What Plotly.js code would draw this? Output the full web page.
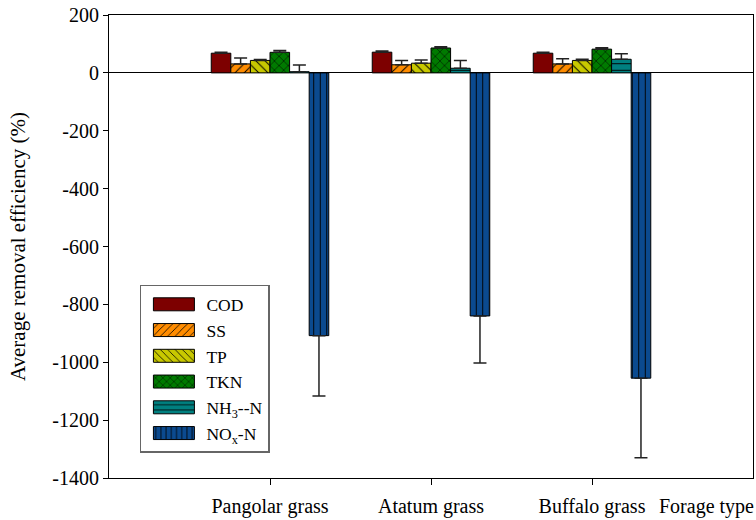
<!DOCTYPE html>
<html>
<head>
<meta charset="utf-8">
<script src="https://cdn.plot.ly/plotly-3.0.1.min.js"></script>
<style>html,body{margin:0;padding:0;background:#fff;}#chart{width:756px;height:520px;}</style>
</head>
<body>
<div id="chart"></div>
<script>
// ---- data ----
const categories = ['Pangolar grass', 'Atatum grass', 'Buffalo grass'];
const axisLabel = 'Forage type';
const seriesNames = ['COD', 'SS', 'TP', 'TKN', 'NH<sub>3</sub>--N', 'NO<sub>x</sub>-N'];
const COD = [68, 71.5, 68];
const COD_err = [3, 4, 3.5];
const SS = [31, 28, 31];
const SS_err = [20, 15, 18];
const TP = [43, 33.5, 43];
const TP_err = [3, 11, 4];
const TKN = [71, 86, 82];
const TKN_err = [6, 4, 5];
const NH3 = [4, 16, 47];
const NH3_err = [23, 27, 19];
const NOx = [-908, -840, -1055];
const NOx_err = [209, 163, 275];
const yTicks = [200, 0, -200, -400, -600, -800, -1000, -1200, -1400];

// ---- styles ----
const values = [COD, SS, TP, TKN, NH3, NOx];
const errors = [COD_err, SS_err, TP_err, TKN_err, NH3_err, NOx_err];
const colors = ['#7d0000', '#ff8c00', '#c8c800', '#007a00', '#008080', '#0b4a8f'];
const patterns = ['', '/', '\\', 'x', '-', '|'];
const FONT = '"Liberation Serif", "Times New Roman", serif';

const traces = values.map((v, i) => ({
  type: 'bar',
  name: seriesNames[i],
  x: categories,
  y: v,
  legendgroup: 'g' + i,
  marker: {
    color: colors[i],
    line: {color: '#000', width: 1},
    pattern: {shape: patterns[i], fgcolor: '#000', bgcolor: colors[i], size: 6.5, solidity: 0.15}
  },
  error_y: {
    type: 'data',
    symmetric: false,
    array: v.map((d, k) => d > 0 ? errors[i][k] : 0),
    arrayminus: v.map((d, k) => d < 0 ? errors[i][k] : 0),
    color: '#222',
    thickness: 1.5,
    width: 6.5
  },
  hoverinfo: 'y'
}));

const layout = {
  width: 756,
  height: 520,
  margin: {l: 109, r: 3, t: 15, b: 42},
  paper_bgcolor: '#fff',
  plot_bgcolor: '#fff',
  font: {family: FONT, size: 18, color: '#000'},
  barmode: 'group',
  bargap: 0.27,
  bargroupgap: 0,
  showlegend: true,
  legend: {
    x: 0.048, y: 0.417, xanchor: 'left', yanchor: 'top',
    bgcolor: '#fff', bordercolor: '#666', borderwidth: 1.5,
    font: {family: FONT, size: 17.5, color: '#000'},
    tracegroupgap: 0,
    itemwidth: 55,
    traceorder: 'normal'
  },
  xaxis: {
    type: 'category',
    range: [-1, 3],
    tickfont: {family: FONT, size: 20, color: '#000'},
    ticks: 'outside', ticklen: 6, tickwidth: 1, tickcolor: '#000',
    ticklabelstandoff: 4,
    showline: true, linecolor: '#000', linewidth: 1,
    mirror: true,
    showgrid: false, zeroline: false
  },
  yaxis: {
    range: [-1400, 200],
    tickmode: 'array',
    tickvals: yTicks,
    ticktext: yTicks.map(v => String(v)),
    ticks: 'outside', ticklen: 5, tickwidth: 1, tickcolor: '#000',
    showline: true, linecolor: '#000', linewidth: 1,
    mirror: true,
    showgrid: false,
    zeroline: true, zerolinecolor: '#000', zerolinewidth: 1.2,
    tickfont: {family: FONT, size: 20, color: '#000'},
    title: {text: 'Average removal efficiency (%)', font: {family: FONT, size: 21, color: '#000'}, standoff: 20}
  },
  annotations: [{
    text: axisLabel,
    xref: 'paper', yref: 'paper',
    x: 1, y: -0.062,
    xanchor: 'right', yanchor: 'middle', xshift: 3,
    showarrow: false,
    font: {family: FONT, size: 20, color: '#000'}
  }]
};

Plotly.newPlot('chart', traces, layout, {staticPlot: true, displayModeBar: false}).then(() => {
  // widen the legend swatches to match the reference's wide rectangles
  document.querySelectorAll('#chart .legend .legendpoints path').forEach(p => {
    p.setAttribute('d', 'M20.5,6.5H-20.5V-6.5H20.5Z');
  });
});
</script>
</body>
</html>
